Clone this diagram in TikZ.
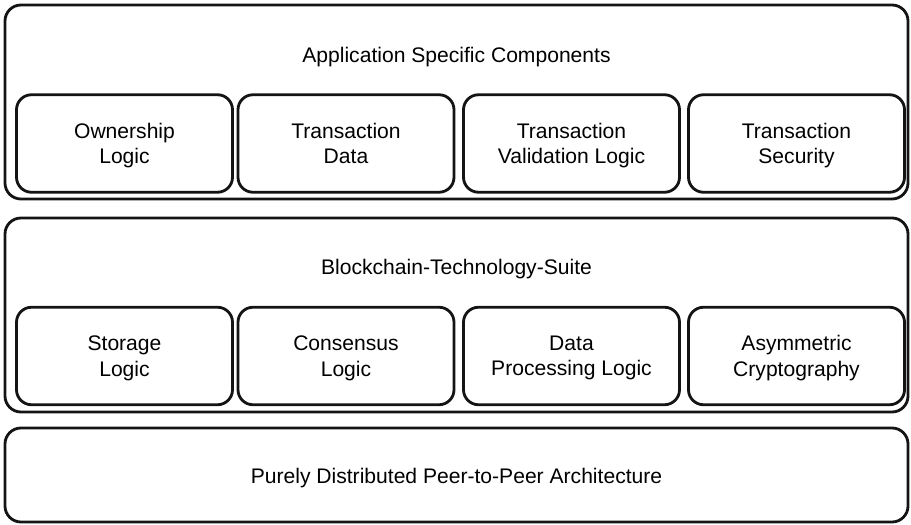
\documentclass[tikz,border=0pt]{standalone}
\usepackage{fontspec}
\setmainfont{Liberation Sans}
\usepackage{tikz}
\usetikzlibrary{positioning}
\definecolor{linegray}{RGB}{20, 20, 20}

\begin{document}
\begin{tikzpicture}[every node/.style={font=\fontsize{12}{14.5}\selectfont},
    layer/.style={draw=linegray, line width=1.6pt, rounded corners=0.32cm, minimum width=18.06cm, inner sep=0pt},
    comp/.style={draw=linegray, line width=1.6pt, rounded corners=0.3cm, minimum width=4.32cm, minimum height=1.95cm, align=center, inner sep=0pt, text depth=0pt}]
    \useasboundingbox (0,0) rectangle (18.22,10.48);

    % Application layer
    \node[layer, minimum height=3.88cm] (app) at (9.13, 8.44) {};
    \node (apptitle) at (9.13, 9.33) {Application Specific Components};
    \node[comp] (owner) at (2.49, 7.61) {Ownership\\Logic};
    \node[comp] (txdata) at (6.92, 7.61) {Transaction\\Data};
    \node[comp] (txvalid) at (11.43, 7.61) {Transaction\\Validation Logic};
    \node[comp] (txsec) at (15.93, 7.61) {Transaction\\Security};

    % Blockchain layer
    \node[layer, minimum height=3.88cm] (suite) at (9.13, 4.18) {};
    \node (suitetitle) at (9.13, 5.10) {Blockchain-Technology-Suite};
    \node[comp] (storage) at (2.49, 3.36) {Storage\\Logic};
    \node[comp] (consensus) at (6.92, 3.36) {Consensus\\Logic};
    \node[comp] (dataproc) at (11.43, 3.36) {Data\\Processing Logic};
    \node[comp] (crypto) at (15.93, 3.36) {Asymmetric\\Cryptography};

    % Network layer
    \node[layer, minimum height=1.88cm] (ptp) at (9.13, 0.98) {};
    \node (ptptitle) at (9.13, 0.91) {Purely Distributed Peer-to-Peer Architecture};
\end{tikzpicture}
\end{document}
